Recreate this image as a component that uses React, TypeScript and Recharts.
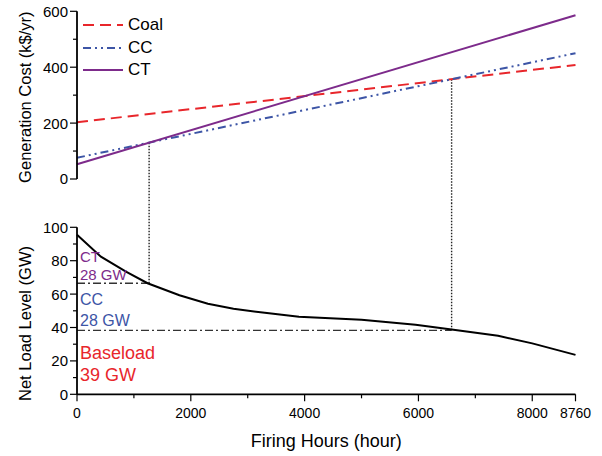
import { ComposedChart, Line, XAxis, YAxis, ReferenceLine, ReferenceDot, Legend } from 'recharts';

const FONT = '"Liberation Sans", Arial, Helvetica, sans-serif';
const RED = '#e8262b';
const BLUE = '#3d55a6';
const PURPLE = '#7d2b8b';

// generation cost lines (k$/yr) at 0 and 8760 hours
const hours = [0, 8760];
const coalCost = [203, 408];
const ccCost = [76, 450];
const ctCost = [53, 586];

const costTicks = [0, 100, 200, 300, 400, 500, 600];
const costLabels = [0, 200, 400, 600];
const hourTicks = [0, 1000, 2000, 3000, 4000, 5000, 6000, 7000, 8000];
const hourTicksBottom = [...hourTicks, 8760];
const hourLabels = [0, 2000, 4000, 6000, 8000, 8760];

// net load duration curve
const loadHours = [0, 420, 860, 1240, 1800, 2300, 2750, 3300, 3900, 5000, 5950, 6550, 7400, 8000, 8760];
const loadGW = [95.5, 82.4, 73.4, 66.5, 59.3, 54.2, 51.2, 48.8, 46.5, 44.6, 41.6, 39, 35, 30.5, 23.6];
const gwTicks = [0, 10, 20, 30, 40, 50, 60, 70, 80, 90, 100];
const gwLabels = [0, 20, 40, 60, 80, 100];

const baseloadTop = 38.3;
const ccTop = 66.5;

const annotations = [
  { text: 'CT', gw: 79.2, color: PURPLE, size: 15 },
  { text: '28 GW', gw: 68.4, color: PURPLE, size: 15 },
  { text: 'CC', gw: 53.5, color: BLUE, size: 16 },
  { text: '28 GW', gw: 40.9, color: BLUE, size: 16 },
  { text: 'Baseload', gw: 21.2, color: RED, size: 18 },
  { text: '39 GW', gw: 8.2, color: RED, size: 18 },
];

const series = [
  { key: 'coal', name: 'Coal', color: RED, dash: '11 6' },
  { key: 'cc', name: 'CC', color: BLUE, dash: '8 4 2 4 2 4' },
  { key: 'ct', name: 'CT', color: PURPLE, dash: undefined as string | undefined },
];

const costData = hours.map((h, i) => ({ h, coal: coalCost[i], cc: ccCost[i], ct: ctCost[i] }));
const loadData = loadHours.map((h, i) => ({ h, gw: loadGW[i] }));

// crossing hour of two straight cost lines
const cross = (a: number[], b: number[]) => {
  const d0 = a[0] - b[0];
  const d1 = a[1] - b[1];
  return hours[0] + ((hours[1] - hours[0]) * d0) / (d0 - d1);
};
const at = (a: number[], h: number) => a[0] + ((a[1] - a[0]) * (h - hours[0])) / (hours[1] - hours[0]);
const ctCcHour = cross(ctCost, ccCost);
const ccCoalHour = cross(ccCost, coalCost);

type Side = 'left' | 'right' | 'top' | 'bottom';
const makeTick = (side: Side, labels: number[], major: number, minor: number, fontSize = 15) => (p: any) => {
  const { x, y } = p;
  const v = p.payload.value;
  const isMajor = labels.includes(v);
  const len = isMajor ? major : minor;
  let line;
  if (side === 'left') line = <line x1={x} x2={x - len} y1={y} y2={y} stroke="#000" strokeWidth={1.2} />;
  else if (side === 'right') line = <line x1={x} x2={x - len} y1={y} y2={y} stroke="#000" strokeWidth={1.2} />;
  else line = <line x1={x} x2={x} y1={y} y2={y + len} stroke="#000" strokeWidth={1.2} />;
  let label = null;
  if (isMajor && side === 'left')
    label = (
      <text x={x - 9} y={y} dy="0.36em" textAnchor="end" fontSize={fontSize} fontFamily={FONT} fill="#000">
        {v}
      </text>
    );
  if (isMajor && side === 'bottom')
    label = (
      <text x={x} y={y + 24} textAnchor="middle" fontSize={fontSize} fontFamily={FONT} fill="#000">
        {v}
      </text>
    );
  return (
    <g>
      {line}
      {label}
    </g>
  );
};

const yTitle = (text: string, shift: number) => (p: any) => {
  const { x, y, height } = p.viewBox;
  const cx = x + 8;
  const cy = y + height / 2 + shift;
  return (
    <text x={cx} y={cy} transform={`rotate(-90 ${cx} ${cy})`} textAnchor="middle" dominantBaseline="central" fontSize={16.5} fontFamily={FONT} fill="#000">
      {text}
    </text>
  );
};

const xTitle = (text: string) => (p: any) => {
  const { x, y, width } = p.viewBox;
  return (
    <text x={x + width / 2} y={y + 52.7} textAnchor="middle" fontSize={18} fontFamily={FONT} fill="#000">
      {text}
    </text>
  );
};

const LegendBox = () => (
  <div style={{ fontFamily: FONT, fontSize: 17, lineHeight: '22.5px' }}>
    {series.map((s) => (
      <div key={s.key} style={{ display: 'flex', alignItems: 'center', height: 22.5 }}>
        <svg width={46} height={10}>
          <line x1={3} x2={43} y1={5} y2={5} stroke={s.color} strokeWidth={2} strokeDasharray={s.dash} />
        </svg>
        <span style={{ marginLeft: 2 }}>{s.name}</span>
      </div>
    ))}
  </div>
);

const axisLine = { stroke: '#000', strokeWidth: 1.8 };
const W = 602;
const margin = (top: number, bottom: number) => ({ top, right: 26.5, bottom, left: 17 });

export default function App() {
  return (
    <div style={{ position: 'absolute', left: 0, top: 0, width: W, height: 456, background: '#fff', fontFamily: FONT }}>
      <ComposedChart width={W} height={203} data={costData} margin={margin(11.3, 24)}>
        <XAxis dataKey="h" type="number" domain={[0, 8760]} ticks={hourTicks} interval={0} height={0}
          axisLine={axisLine} tickLine={false} tickSize={0} tickMargin={0} tick={makeTick('bottom', hourTicks, 5, 5)} />
        <XAxis xAxisId="top" orientation="top" dataKey="h" type="number" domain={[0, 8760]} ticks={hourTicks} interval={0} height={0}
          axisLine={axisLine} tickLine={false} tickSize={0} tickMargin={0} tick={makeTick('top', [], 3, 3)} />
        <YAxis type="number" domain={[0, 600]} ticks={costTicks} interval={0} width={60}
          axisLine={axisLine} tickLine={false} tickSize={0} tickMargin={0} tick={makeTick('left', costLabels, 7, 4)}
          label={yTitle('Generation Cost (k$/yr)', 2)} />
        <YAxis yAxisId="right" orientation="right" type="number" domain={[0, 600]} ticks={costTicks} interval={0} width={0}
          axisLine={axisLine} tickLine={false} tickSize={0} tickMargin={0} tick={makeTick('right', [], 3, 3)} />
        <Legend layout="horizontal" verticalAlign="middle" align="center" content={<LegendBox />}
          wrapperStyle={{ left: 80, top: 14, width: 'auto', height: 'auto' }} />
        <ReferenceLine segment={[{ x: ctCcHour, y: at(ctCost, ctCcHour) }, { x: ctCcHour, y: -120 }]} ifOverflow="visible"
          stroke="#222" strokeWidth={1.4} strokeDasharray="1.5 1.5" />
        <ReferenceLine segment={[{ x: ccCoalHour, y: at(coalCost, ccCoalHour) }, { x: ccCoalHour, y: -120 }]} ifOverflow="visible"
          stroke="#222" strokeWidth={1.4} strokeDasharray="1.5 1.5" />
        {series.map((s) => (
          <Line key={s.key} dataKey={s.key} name={s.name} stroke={s.color} strokeWidth={2} strokeDasharray={s.dash}
            dot={false} activeDot={false} isAnimationActive={false} />
        ))}
      </ComposedChart>
      <ComposedChart width={W} height={253} data={loadData} margin={margin(24.3, 7.7)}>
        <XAxis dataKey="h" type="number" domain={[0, 8760]} ticks={hourTicksBottom} interval={0} height={54}
          axisLine={axisLine} tickLine={false} tickSize={0} tickMargin={0} tick={makeTick('bottom', hourLabels, 7, 4, 14)}
          label={xTitle('Firing Hours (hour)')} />
        <XAxis xAxisId="top" orientation="top" dataKey="h" type="number" domain={[0, 8760]} ticks={hourTicks} interval={0} height={0}
          axisLine={axisLine} tickLine={false} tickSize={0} tickMargin={0} tick={makeTick('top', [], 3, 3)} />
        <YAxis type="number" domain={[0, 100]} ticks={gwTicks} interval={0} width={60}
          axisLine={axisLine} tickLine={false} tickSize={0} tickMargin={0} tick={makeTick('left', gwLabels, 7, 4)}
          label={yTitle('Net Load Level (GW)', 12.7)} />
        <YAxis yAxisId="right" orientation="right" type="number" domain={[0, 100]} ticks={gwTicks} interval={0} width={0}
          axisLine={axisLine} tickLine={false} tickSize={0} tickMargin={0} tick={makeTick('right', [], 3, 3)} />
        <ReferenceLine segment={[{ x: ctCcHour, y: ccTop }, { x: ctCcHour, y: 116 }]} ifOverflow="visible"
          stroke="#222" strokeWidth={1.4} strokeDasharray="1.5 1.5" />
        <ReferenceLine segment={[{ x: ccCoalHour, y: baseloadTop }, { x: ccCoalHour, y: 116 }]} ifOverflow="visible"
          stroke="#222" strokeWidth={1.4} strokeDasharray="1.5 1.5" />
        <ReferenceLine segment={[{ x: 0, y: ccTop }, { x: ctCcHour, y: ccTop }]} stroke="#333" strokeWidth={1.3} strokeDasharray="8 3 2 3" />
        <ReferenceLine segment={[{ x: 0, y: baseloadTop }, { x: ccCoalHour, y: baseloadTop }]} stroke="#333" strokeWidth={1.3} strokeDasharray="8 3 2 3" />
        {annotations.map((a, i) => (
          <ReferenceDot key={i} x={0} y={a.gw} r={0}
            shape={(p: any) => (
              <text x={p.cx + 3} y={p.cy} fontSize={a.size} fontFamily={FONT} fill={a.color}>
                {a.text}
              </text>
            )} />
        ))}
        <Line dataKey="gw" stroke="#000" strokeWidth={2} dot={false} activeDot={false} isAnimationActive={false} />
      </ComposedChart>
    </div>
  );
}
